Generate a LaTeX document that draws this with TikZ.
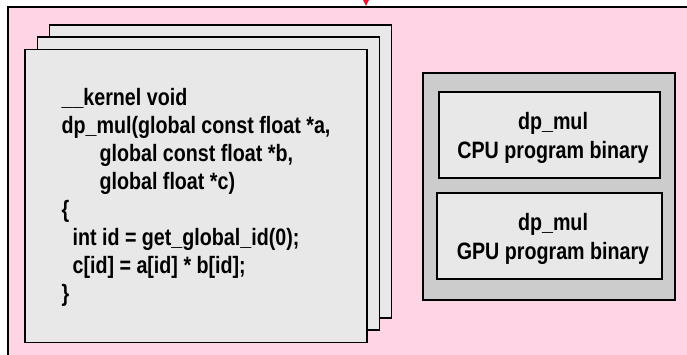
\documentclass[tikz,border=0pt]{standalone}
\usepackage{fontspec}
\setmainfont{Liberation Sans}[FakeStretch=0.83]
\usetikzlibrary{arrows.meta}
\definecolor{panelpink}{HTML}{FFD5E6}
\definecolor{pagegray}{HTML}{E8E8E8}
\definecolor{holdergray}{HTML}{CCCCCC}
\definecolor{feedred}{HTML}{E8112D}
\tikzset{
  panel/.style={draw=black, fill=panelpink, line width=1.8pt, minimum width=692pt, minimum height=363pt, inner sep=0pt},
  page/.style={draw=black, fill=pagegray, line width=1.8pt, minimum width=342pt, minimum height=293pt, inner sep=0pt},
  holder/.style={draw=black, fill=holdergray, line width=1.8pt, inner sep=0pt},
  binary/.style={draw=black, fill=pagegray, line width=1.8pt, minimum height=86pt, inner sep=0pt},
  codetxt/.style={font=\bfseries\fontsize{23.7}{28}\selectfont, align=left, inner sep=0pt},
  bintxt/.style={font=\bfseries\fontsize{23.7}{29}\selectfont, align=center, inner sep=0pt},
  feed/.style={draw=feedred, line width=2pt, -{Triangle[length=8pt,width=7pt]}}
}

\begin{document}
\begin{tikzpicture}[x=1pt, y=-1pt]
  \useasboundingbox (0,0) rectangle (687,354);
  \clip (0,0) rectangle (687,354);

  \node[panel] (panel) at (354,188.5) {};
  \coordinate (src) at (366,-30);
  \draw[feed] (src) -- (src |- panel.north);

  \node[page] (back) at (220.5,171.5) {};
  \node[page] (middle) at (208.5,183.5) {};
  \node[page] (front) at (196,196) {};
  \node[codetxt] (code) at (196,197) {\_\_kernel void\\
    dp\_mul(global const float *a,\\
    \hspace*{38pt}global const float *b,\\
    \hspace*{38pt}global float *c)\\
    \{\\
    \hspace*{11pt}int id = get\_global\_id(0);\\
    \hspace*{11pt}c[id] = a[id] * b[id];\\
    \}};

  \node[holder, minimum width=252pt, minimum height=227pt] (holder) at (549,186.5) {};
  \node[binary, minimum width=221pt] (cpu) at (549.5,135) {};
  \node[binary, minimum width=225pt] (gpu) at (549.5,236) {};
  \node[bintxt] (cputxt) at ([shift={(3.5,3.4)}]cpu.center) {dp\_mul\\CPU program binary};
  \node[bintxt] (gputxt) at ([shift={(3.5,3.4)}]gpu.center) {dp\_mul\\GPU program binary};
\end{tikzpicture}
\end{document}
